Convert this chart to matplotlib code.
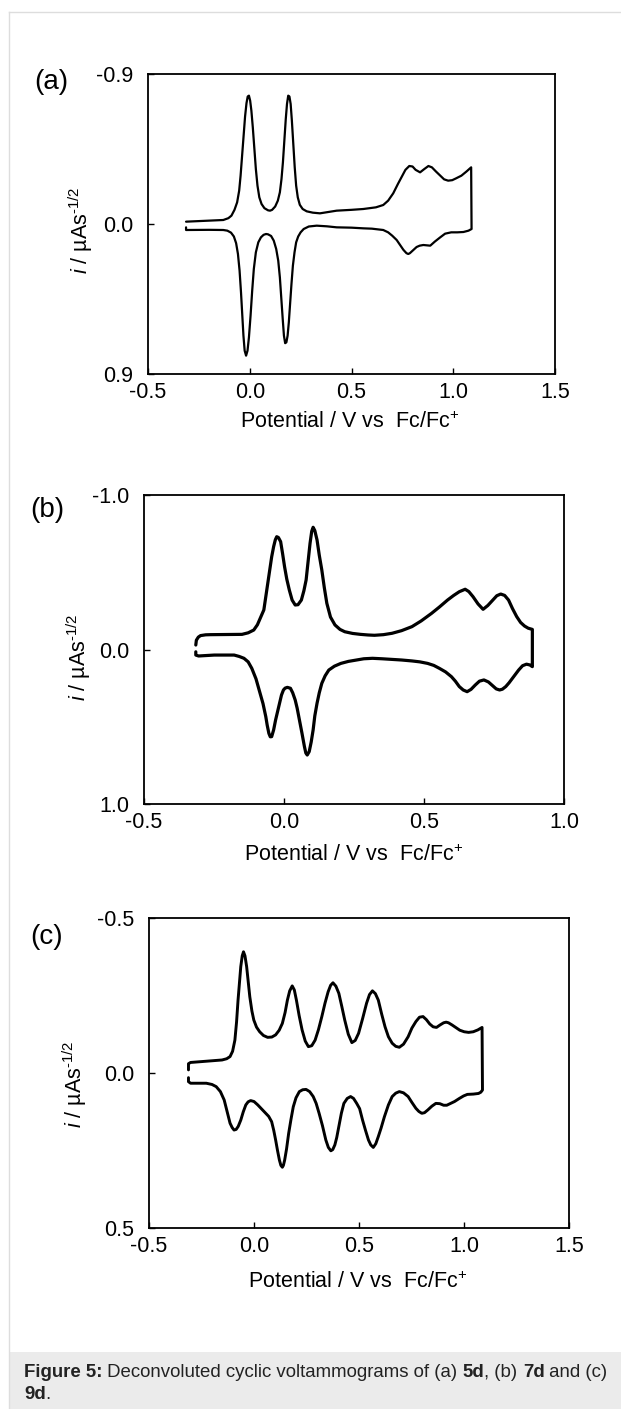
import matplotlib
matplotlib.use('Agg')
import matplotlib.pyplot as plt
from matplotlib.lines import Line2D
from matplotlib.patches import Rectangle
from matplotlib.ticker import FormatStrFormatter

plt.rcParams['font.family'] = ['Liberation Sans', 'DejaVu Sans']
plt.rcParams['mathtext.fontset'] = 'custom'
plt.rcParams['mathtext.rm'] = 'Liberation Sans'
plt.rcParams['mathtext.it'] = 'Liberation Sans:italic'
plt.rcParams['mathtext.bf'] = 'Liberation Sans:bold'

# ---- data (potential V, current) ----
# (a) 5d, forward scan then reverse scan
a_up_v = [-0.313, -0.13, -0.105, -0.090, -0.075, -0.062, -0.052, -0.045, -0.037, -0.030, -0.023, -0.016,
          -0.010, -0.004, 0.002, 0.008, 0.015, 0.022, 0.030, 0.038, 0.047, 0.058, 0.072, 0.090, 0.100,
          0.110, 0.125, 0.138, 0.148, 0.156, 0.163, 0.170, 0.177, 0.183, 0.189, 0.195, 0.201, 0.207,
          0.214, 0.221, 0.228, 0.236, 0.246, 0.260, 0.280, 0.310, 0.345, 0.427, 0.500, 0.558, 0.620,
          0.656, 0.680, 0.705, 0.728, 0.747, 0.765, 0.784, 0.800, 0.815, 0.837, 0.858, 0.878, 0.895,
          0.915, 0.936, 0.955, 0.975, 0.995, 1.014, 1.040, 1.065, 1.088]
a_up_i = [-0.014, -0.024, -0.035, -0.050, -0.085, -0.130, -0.200, -0.290, -0.420, -0.540, -0.645, -0.725,
          -0.765, -0.770, -0.740, -0.680, -0.580, -0.460, -0.330, -0.230, -0.160, -0.120, -0.095, -0.082,
          -0.080, -0.085, -0.105, -0.140, -0.190, -0.270, -0.370, -0.500, -0.630, -0.720, -0.770, -0.765,
          -0.720, -0.620, -0.480, -0.340, -0.230, -0.160, -0.115, -0.090, -0.076, -0.068, -0.064, -0.080,
          -0.085, -0.090, -0.100, -0.114, -0.140, -0.184, -0.240, -0.284, -0.325, -0.348, -0.345, -0.325,
          -0.310, -0.330, -0.348, -0.340, -0.315, -0.290, -0.268, -0.260, -0.263, -0.274, -0.290, -0.315,
          -0.340]
a_dn_v = [1.090, 1.075, 1.050, 1.020, 0.990, 0.960, 0.936, 0.910, 0.887, 0.870, 0.853, 0.835, 0.820,
          0.800, 0.787, 0.779, 0.770, 0.755, 0.738, 0.722, 0.700, 0.680, 0.656, 0.600, 0.558, 0.500,
          0.427, 0.380, 0.329, 0.290, 0.265, 0.250, 0.238, 0.228, 0.220, 0.212, 0.205, 0.198, 0.192,
          0.186, 0.180, 0.174, 0.168, 0.162, 0.155, 0.148, 0.140, 0.130, 0.118, 0.105, 0.090, 0.080,
          0.068, 0.055, 0.042, 0.030, 0.020, 0.012, 0.004, -0.004, -0.011, -0.018, -0.025, -0.031,
          -0.037, -0.043, -0.050, -0.058, -0.067, -0.078, -0.092, -0.110, -0.130, -0.200, -0.313, -0.313]
a_dn_i = [0.030, 0.040, 0.048, 0.050, 0.050, 0.058, 0.080, 0.105, 0.130, 0.128, 0.126, 0.130, 0.138,
          0.160, 0.175, 0.180, 0.175, 0.155, 0.125, 0.096, 0.070, 0.050, 0.036, 0.028, 0.026, 0.022,
          0.020, 0.014, 0.010, 0.015, 0.030, 0.050, 0.075, 0.110, 0.170, 0.250, 0.360, 0.480, 0.590,
          0.670, 0.710, 0.715, 0.670, 0.570, 0.440, 0.320, 0.220, 0.150, 0.100, 0.072, 0.062, 0.060,
          0.065, 0.080, 0.110, 0.170, 0.270, 0.400, 0.550, 0.680, 0.760, 0.790, 0.760, 0.670, 0.540,
          0.410, 0.280, 0.180, 0.115, 0.075, 0.052, 0.040, 0.036, 0.035, 0.036, 0.020]

# (b) 7d
b_up_v = [-0.315, -0.313, -0.306, -0.298, -0.280, -0.263, -0.200, -0.150, -0.128, -0.108, -0.095, -0.083,
          -0.072, -0.062, -0.051, -0.044, -0.037, -0.031, -0.026, -0.020, -0.012, -0.005, 0.002, 0.010,
          0.019, 0.029, 0.040, 0.050, 0.062, 0.071, 0.079, 0.086, 0.093, 0.099, 0.104, 0.110, 0.118,
          0.126, 0.135, 0.144, 0.153, 0.166, 0.182, 0.200, 0.217, 0.245, 0.273, 0.300, 0.323, 0.355,
          0.386, 0.420, 0.457, 0.490, 0.527, 0.555, 0.584, 0.606, 0.626, 0.647, 0.660, 0.675, 0.693,
          0.711, 0.728, 0.746, 0.760, 0.774, 0.788, 0.802, 0.816, 0.831, 0.845, 0.859, 0.872, 0.887]
b_up_i = [-0.029, -0.060, -0.080, -0.090, -0.095, -0.096, -0.097, -0.098, -0.108, -0.126, -0.160, -0.210,
          -0.256, -0.380, -0.515, -0.600, -0.666, -0.710, -0.730, -0.725, -0.698, -0.620, -0.536, -0.455,
          -0.385, -0.320, -0.288, -0.290, -0.320, -0.380, -0.450, -0.570, -0.687, -0.765, -0.791, -0.770,
          -0.709, -0.610, -0.515, -0.400, -0.299, -0.210, -0.159, -0.130, -0.115, -0.104, -0.098, -0.094,
          -0.092, -0.096, -0.105, -0.122, -0.148, -0.185, -0.234, -0.275, -0.320, -0.350, -0.374, -0.390,
          -0.375, -0.342, -0.295, -0.260, -0.285, -0.320, -0.348, -0.359, -0.350, -0.320, -0.265, -0.213,
          -0.175, -0.152, -0.138, -0.130]
b_dn_v = [0.887, 0.878, 0.866, 0.852, 0.838, 0.827, 0.816, 0.804, 0.792, 0.780, 0.770, 0.758, 0.746,
          0.730, 0.714, 0.698, 0.683, 0.668, 0.654, 0.640, 0.626, 0.612, 0.598, 0.577, 0.555, 0.535,
          0.513, 0.485, 0.457, 0.420, 0.386, 0.350, 0.316, 0.285, 0.259, 0.230, 0.203, 0.180, 0.160,
          0.147, 0.135, 0.126, 0.118, 0.110, 0.104, 0.097, 0.090, 0.083, 0.078, 0.073, 0.064, 0.055,
          0.047, 0.040, 0.031, 0.023, 0.012, 0.004, -0.002, -0.009, -0.016, -0.023, -0.030, -0.037,
          -0.044, -0.049, -0.054, -0.060, -0.065, -0.075, -0.087, -0.100, -0.115, -0.128, -0.143, -0.160,
          -0.178, -0.249, -0.305, -0.315, -0.315]
b_dn_i = [0.111, 0.100, 0.095, 0.105, 0.133, 0.160, 0.186, 0.215, 0.240, 0.257, 0.262, 0.255, 0.236,
          0.210, 0.197, 0.205, 0.230, 0.258, 0.273, 0.262, 0.240, 0.205, 0.176, 0.145, 0.122, 0.103,
          0.090, 0.080, 0.074, 0.068, 0.064, 0.060, 0.057, 0.060, 0.068, 0.077, 0.090, 0.108, 0.133,
          0.170, 0.219, 0.280, 0.348, 0.430, 0.521, 0.600, 0.661, 0.683, 0.670, 0.629, 0.540, 0.456,
          0.380, 0.327, 0.280, 0.251, 0.245, 0.250, 0.262, 0.295, 0.348, 0.400, 0.456, 0.520, 0.564,
          0.565, 0.543, 0.490, 0.435, 0.350, 0.273, 0.190, 0.122, 0.080, 0.057, 0.045, 0.036, 0.036,
          0.042, 0.036, 0.015]

# (c) 9d
c_up_v = [-0.312, -0.312, -0.302, -0.227, -0.152, -0.130, -0.114, -0.102, -0.091, -0.083, -0.076, -0.069,
          -0.063, -0.056, -0.050, -0.043, -0.035, -0.027, -0.020, -0.010, -0.001, 0.012, 0.027, 0.045,
          0.065, 0.085, 0.103, 0.120, 0.135, 0.148, 0.159, 0.170, 0.182, 0.192, 0.202, 0.215, 0.229,
          0.244, 0.259, 0.275, 0.291, 0.307, 0.323, 0.338, 0.353, 0.365, 0.376, 0.390, 0.404, 0.418,
          0.432, 0.449, 0.466, 0.482, 0.498, 0.517, 0.536, 0.550, 0.564, 0.578, 0.592, 0.608, 0.624,
          0.640, 0.658, 0.675, 0.692, 0.712, 0.734, 0.752, 0.771, 0.788, 0.805, 0.821, 0.837, 0.853,
          0.869, 0.886, 0.903, 0.915, 0.926, 0.943, 0.960, 0.980, 1.001, 1.022, 1.044, 1.066, 1.086]
c_up_i = [-0.010, -0.030, -0.034, -0.038, -0.042, -0.046, -0.053, -0.070, -0.106, -0.165, -0.235, -0.295,
          -0.343, -0.378, -0.391, -0.378, -0.343, -0.290, -0.246, -0.200, -0.171, -0.148, -0.133, -0.121,
          -0.115, -0.116, -0.123, -0.138, -0.160, -0.195, -0.235, -0.265, -0.281, -0.268, -0.235, -0.185,
          -0.139, -0.103, -0.085, -0.088, -0.106, -0.140, -0.182, -0.225, -0.262, -0.283, -0.291, -0.280,
          -0.257, -0.215, -0.171, -0.125, -0.098, -0.105, -0.128, -0.175, -0.225, -0.253, -0.265, -0.256,
          -0.235, -0.190, -0.149, -0.117, -0.096, -0.086, -0.083, -0.093, -0.117, -0.145, -0.166, -0.180,
          -0.182, -0.172, -0.158, -0.149, -0.147, -0.155, -0.162, -0.164, -0.162, -0.155, -0.147, -0.138,
          -0.133, -0.131, -0.133, -0.139, -0.147]
c_dn_v = [1.088, 1.080, 1.069, 1.045, 1.016, 0.998, 0.978, 0.955, 0.931, 0.918, 0.903, 0.885, 0.866,
          0.847, 0.828, 0.812, 0.799, 0.785, 0.771, 0.752, 0.734, 0.712, 0.692, 0.675, 0.658, 0.640,
          0.621, 0.605, 0.592, 0.580, 0.568, 0.556, 0.545, 0.531, 0.517, 0.503, 0.489, 0.474, 0.460,
          0.444, 0.428, 0.416, 0.404, 0.394, 0.385, 0.375, 0.366, 0.354, 0.342, 0.326, 0.310, 0.296,
          0.282, 0.265, 0.248, 0.232, 0.216, 0.200, 0.187, 0.176, 0.165, 0.155, 0.146, 0.140, 0.135,
          0.128, 0.121, 0.112, 0.103, 0.094, 0.084, 0.070, 0.056, 0.037, 0.018, 0.000, -0.016, -0.028,
          -0.039, -0.051, -0.063, -0.075, -0.085, -0.095, -0.104, -0.114, -0.128, -0.142, -0.160, -0.180,
          -0.200, -0.227, -0.302, -0.312, -0.312]
c_dn_i = [0.055, 0.062, 0.066, 0.068, 0.069, 0.074, 0.082, 0.092, 0.100, 0.104, 0.104, 0.099, 0.098,
          0.107, 0.119, 0.128, 0.130, 0.124, 0.114, 0.095, 0.076, 0.064, 0.060, 0.065, 0.076, 0.103,
          0.141, 0.178, 0.205, 0.228, 0.240, 0.232, 0.216, 0.185, 0.152, 0.115, 0.098, 0.082, 0.076,
          0.082, 0.098, 0.130, 0.173, 0.208, 0.232, 0.247, 0.251, 0.240, 0.216, 0.170, 0.130, 0.098,
          0.076, 0.060, 0.053, 0.054, 0.060, 0.080, 0.109, 0.150, 0.195, 0.245, 0.281, 0.298, 0.304,
          0.298, 0.281, 0.250, 0.216, 0.185, 0.157, 0.140, 0.130, 0.116, 0.103, 0.092, 0.089, 0.093,
          0.103, 0.125, 0.152, 0.172, 0.182, 0.184, 0.176, 0.162, 0.125, 0.087, 0.060, 0.044, 0.037,
          0.033, 0.033, 0.028, 0.015]

xlabel = 'Potential / V vs  Fc/Fc$^{+}$'
ylabel = r'$i$ / µAs$^{\text{-1/2}}$'

W, H = 621, 1409
fig = plt.figure(figsize=(W / 100, H / 100), dpi=100)


def px(l, t, r, b):
    return [l / W, 1 - b / H, (r - l) / W, (b - t) / H]


def panel(rect, v, i, xticks, ylim, lw, tag, tag_xy, ylab_xy, xlab_xy):
    ax = fig.add_axes(px(*rect))
    ax.plot(v, i, color='black', lw=lw, solid_joinstyle='round', solid_capstyle='round')
    ax.set_xlim(xticks[0], xticks[-1])
    ax.set_ylim(ylim, -ylim)
    ax.set_xticks(xticks)
    ax.set_yticks([-ylim, 0, ylim])
    ax.xaxis.set_major_formatter(FormatStrFormatter('%.1f'))
    ax.yaxis.set_major_formatter(FormatStrFormatter('%.1f'))
    ax.tick_params(direction='in', length=4, width=1, labelsize=15.5, colors='black')
    ax.tick_params(axis='x', pad=6)
    ax.tick_params(axis='y', pad=10.5)
    for s in ax.spines.values():
        s.set_linewidth(1.3)
    fig.text(tag_xy[0] / W, 1 - tag_xy[1] / H, tag, fontsize=20, ha='center', va='center')
    fig.text(ylab_xy[0] / W, 1 - ylab_xy[1] / H, ylabel, fontsize=15.5, rotation=90,
             ha='center', va='center')
    fig.text(xlab_xy[0] / W, 1 - xlab_xy[1] / H, xlabel, fontsize=15.5, ha='center', va='center')
    return ax


panel((148, 74, 555, 374), a_up_v + a_dn_v, a_up_i + a_dn_i, [-0.5, 0.0, 0.5, 1.0, 1.5], 0.9,
      1.6, '(a)', (51, 82), (81, 230), (350, 422))
panel((144, 495, 564, 804), b_up_v + b_dn_v, b_up_i + b_dn_i, [-0.5, 0.0, 0.5, 1.0], 1.0,
      2.3, '(b)', (47, 510), (79, 657), (354, 855))
panel((149, 918, 569, 1228), c_up_v + c_dn_v, c_up_i + c_dn_i, [-0.5, 0.0, 0.5, 1.0, 1.5], 0.5,
      2.1, '(c)', (47, 937), (75, 1084), (358, 1282))

# page frame and caption box
fig.add_artist(Line2D([9 / W, 9 / W], [0, 1 - 12 / H], transform=fig.transFigure, color='#dddddd', lw=1))
fig.add_artist(Line2D([9 / W, 1], [1 - 12 / H, 1 - 12 / H], transform=fig.transFigure, color='#dddddd', lw=1))
fig.add_artist(Rectangle((9.5 / W, 0), (W - 9.5) / W, (H - 1352) / H, transform=fig.transFigure,
                         facecolor='#ebebeb', edgecolor='none'))

caption = [
    [('Figure 5:', 'bold'), (' Deconvoluted cyclic voltammograms of (a) ', 'normal'), ('5d', 'bold'),
     (', (b) ', 'normal'), ('7d', 'bold'), (' and (c)', 'normal')],
    [('9d', 'bold'), ('.', 'normal')],
]
renderer = fig.canvas.get_renderer()
for line, base in zip(caption, [1377, 1399]):
    x = 24
    for s, w in line:
        t = fig.text(x / W, 1 - base / H, s, fontsize=13.4, fontweight=w, color='#222222', va='baseline')
        x = t.get_window_extent(renderer).x1

fig.savefig('out.png', dpi=100)
